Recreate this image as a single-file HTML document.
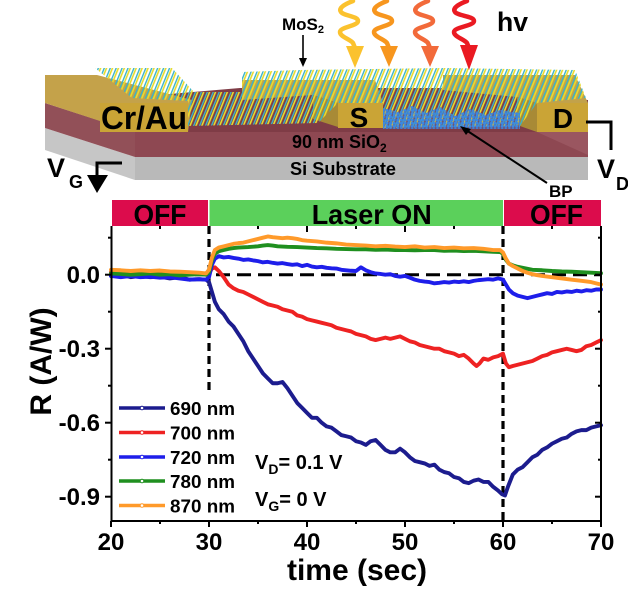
<!DOCTYPE html>
<html><head><meta charset="utf-8"><style>
html,body{margin:0;padding:0;background:#fff;}
svg{display:block;}
text{font-family:"Liberation Sans",Arial,sans-serif;font-weight:bold;fill:#000;}
</style></head><body>
<svg width="628" height="589" viewBox="0 0 628 589" xmlns="http://www.w3.org/2000/svg">
<defs>
<pattern id="mos" width="5.5" height="8" patternUnits="userSpaceOnUse" patternTransform="rotate(22)">
<line x1="1.2" y1="0" x2="1.2" y2="8" stroke="#3ab4c8" stroke-width="1.4"/>
<line x1="3.3" y1="0" x2="3.3" y2="8" stroke="#e8dc2e" stroke-width="1.6"/>
</pattern>
<pattern id="bp" width="3.6" height="3.2" patternUnits="userSpaceOnUse">
<circle cx="1.8" cy="1.6" r="1.45" fill="#3a88e4"/>
</pattern>
</defs>

<!-- ===== schematic ===== -->
<polygon points="45,128 135,157 135,180 45,150" fill="#c6c6c6"/>
<rect x="135" y="156" width="453" height="24" fill="#b9b9b9"/>
<polygon points="45,103 135,132 135,157 45,128" fill="#925058"/>
<rect x="135" y="128" width="453" height="29" fill="#8e4852"/>
<polygon points="100,100 240,88 445,88 588,100 588,132 135,132" fill="#7f3c46"/>
<polygon points="537,132 588,132 588,155" fill="#9a5660"/>
<!-- Cr/Au -->
<polygon points="45,75 97,75 192,100 188,132 100,132 100,121 45,103" fill="#c4a24a"/>
<!-- S electrode -->
<polygon points="242,80 375,80 383,103 338,103 313,95 242,100" fill="#c2a24a"/>
<polygon points="313,95 338,103 338,127 313,119" fill="#a88a36"/>
<!-- D electrode -->
<polygon points="443,75 575,75 588,103 537,103 517,97 443,90" fill="#c2a24a"/>
<polygon points="517,97 537,103 537,132 517,125" fill="#a88a36"/>
<!-- MoS2 lattice -->
<polygon points="95,68 172,68 194,92 242,92 242,72 300,70 445,68 575,70 586,98 537,103 520,126 383,128 383,103 338,103 318,123 188,126 188,101 132,98" fill="url(#mos)"/>
<!-- BP -->
<polygon points="383,108 398,112 412,106 426,113 440,107 455,116 470,109 486,115 500,110 520,113 520,129 383,129" fill="#4a78c8" fill-opacity="0.35"/>
<polygon points="383,108 398,112 412,106 426,113 440,107 455,116 470,109 486,115 500,110 520,113 520,129 383,129" fill="url(#bp)"/>
<rect x="100" y="103" width="88" height="29" fill="#caa436"/>
<rect x="338" y="103" width="45" height="25" fill="#caa436"/>
<rect x="537" y="103" width="51" height="29" fill="#caa436"/>

<text x="144" y="129" font-size="32" text-anchor="middle" textLength="86" lengthAdjust="spacingAndGlyphs">Cr/Au</text>
<text x="359" y="127" font-size="28" text-anchor="middle">S</text>
<text x="563" y="128" font-size="28" text-anchor="middle">D</text>
<text x="292" y="148" font-size="18" fill="#1a1a1a">90 nm SiO<tspan font-size="12" dy="4">2</tspan></text>
<text x="290" y="175" font-size="18" textLength="106" lengthAdjust="spacingAndGlyphs" fill="#1a1a1a">Si Substrate</text>

<!-- V_G -->
<text x="47" y="177" font-size="27">V</text>
<text x="69" y="188" font-size="18">G</text>
<polyline points="122,163 97,163 97,177" fill="none" stroke="#000" stroke-width="3"/>
<polygon points="87,175 108,175 97,193" fill="#000"/>
<!-- V_D -->
<polyline points="586,122 611,122 611,150" fill="none" stroke="#000" stroke-width="3"/>
<text x="597" y="178" font-size="27">V</text>
<text x="616" y="190" font-size="18">D</text>
<!-- BP -->
<line x1="547" y1="183" x2="466" y2="130" stroke="#000" stroke-width="2"/>
<polygon points="460,126 471,129 466,135" fill="#000"/>
<text x="549" y="197" font-size="17">BP</text>
<!-- MoS2 -->
<text x="282" y="30" font-size="17">MoS<tspan font-size="11" dy="3">2</tspan></text>
<line x1="303" y1="35" x2="303" y2="60" stroke="#000" stroke-width="1.6"/>
<polygon points="299,58 307,58 303,67" fill="#000"/>
<!-- light arrows -->
<g fill="none" stroke-width="4.5" stroke-linecap="round">
<path d="M353,1 C345,4 338,8 341,12 C344,16 358,16 358,21 C358,26 340,27 340,32 C340,37 350,39 353,43 L355,48" stroke="#fbc22e"/>
<path transform="translate(34,0)" d="M353,1 C345,4 338,8 341,12 C344,16 358,16 358,21 C358,26 340,27 340,32 C340,37 350,39 353,43 L355,48" stroke="#f7961e"/>
<path transform="translate(75,0)" d="M353,1 C345,4 338,8 341,12 C344,16 358,16 358,21 C358,26 340,27 340,32 C340,37 350,39 353,43 L355,48" stroke="#f26a3a"/>
<path transform="translate(114,0)" d="M353,1 C345,4 338,8 341,12 C344,16 360,16 360,21 C360,26 340,27 340,32 C340,37 350,39 353,43 L355,48" stroke="#ea1a22"/>
</g>
<polygon points="346,46 364,46 355,68" fill="#fbc22e"/>
<polygon points="380,46 398,46 389,67" fill="#f7961e"/>
<polygon points="421,46 439,46 430,67" fill="#f26a3a"/>
<polygon points="460,45 478,45 469,70" fill="#ea1a22"/>
<text x="497" y="31" font-size="27" textLength="31" lengthAdjust="spacingAndGlyphs">hv</text>

<!-- ===== chart ===== -->
<rect x="112" y="200" width="96" height="26" fill="#dc0c4c"/>
<rect x="209.5" y="200" width="293.5" height="26" fill="#5bd05b"/>
<rect x="504" y="200" width="97" height="26" fill="#dc0c4c"/>
<text x="160" y="224" font-size="28" text-anchor="middle" textLength="53" lengthAdjust="spacingAndGlyphs">OFF</text>
<text x="371.7" y="224" font-size="28" text-anchor="middle" textLength="120" lengthAdjust="spacingAndGlyphs">Laser ON</text>
<text x="556.5" y="224" font-size="28" text-anchor="middle" textLength="53" lengthAdjust="spacingAndGlyphs">OFF</text>

<!-- dashed lines -->
<line x1="111" y1="274.7" x2="601" y2="274.7" stroke="#000" stroke-width="3" stroke-dasharray="14,7"/>
<line x1="209" y1="226" x2="209" y2="395" stroke="#000" stroke-width="3.2" stroke-dasharray="8,5"/>
<line x1="503" y1="226" x2="503" y2="521" stroke="#000" stroke-width="3.2" stroke-dasharray="8,5"/>

<!-- data -->
<g transform="translate(-85,274.7) scale(9.8,-246.7)" fill="none" stroke-width="3.9" stroke-linejoin="round" stroke-linecap="round">
<polyline vector-effect="non-scaling-stroke" stroke="#1c1c8e" points="20,-0.005 21,0 22,-0.01 23,-0.005 24,-0.01 25,-0.008 26,-0.015 27,-0.01 28,-0.02 29,-0.018 29.7,-0.02 30,-0.03 30.3,-0.07 30.6,-0.11 31,-0.14 31.5,-0.16 32,-0.19 32.5,-0.21 33,-0.24 33.5,-0.27 34,-0.31 34.5,-0.34 35,-0.37 35.5,-0.4 36,-0.42 36.5,-0.44 37,-0.44 37.5,-0.435 38,-0.46 38.5,-0.49 39,-0.52 39.5,-0.54 40,-0.56 40.5,-0.58 41,-0.58 41.5,-0.6 42,-0.615 42.5,-0.62 43,-0.635 43.5,-0.65 44,-0.655 44.5,-0.66 45,-0.675 45.5,-0.68 46,-0.69 46.5,-0.675 47,-0.67 47.5,-0.69 48,-0.71 48.5,-0.72 49,-0.72 49.5,-0.705 50,-0.72 50.5,-0.74 51,-0.755 51.5,-0.76 52,-0.765 52.5,-0.775 53,-0.77 53.5,-0.79 54,-0.8 54.5,-0.805 55,-0.82 55.5,-0.825 56,-0.84 56.5,-0.845 57,-0.835 57.5,-0.83 58,-0.84 58.5,-0.84 59,-0.86 59.5,-0.875 59.9,-0.89 60.2,-0.895 60.5,-0.86 61,-0.81 61.5,-0.79 62,-0.78 62.5,-0.76 63,-0.74 63.5,-0.73 64,-0.71 64.5,-0.7 65,-0.685 65.5,-0.675 66,-0.665 66.5,-0.66 67,-0.645 67.5,-0.635 68,-0.63 68.5,-0.63 69,-0.62 69.5,-0.615 70,-0.61"/>
<polyline vector-effect="non-scaling-stroke" stroke="#ee2222" points="20,0.01 21,0.015 22,0.01 23,0.012 24,0.015 25,0.01 26,0.012 27,0.005 28,0.008 29,0.005 29.7,0 30,0.005 30.3,0.025 30.6,0.03 31,0.015 31.5,-0.01 32,-0.04 32.5,-0.055 33,-0.065 33.5,-0.07 34,-0.08 34.5,-0.09 35,-0.1 35.5,-0.11 36,-0.12 36.5,-0.125 37,-0.13 37.5,-0.14 38,-0.145 38.5,-0.15 39,-0.165 39.5,-0.17 40,-0.18 40.5,-0.185 41,-0.19 41.5,-0.195 42,-0.2 42.5,-0.205 43,-0.215 43.5,-0.22 44,-0.225 44.5,-0.23 45,-0.24 45.5,-0.245 46,-0.25 46.5,-0.26 47,-0.265 47.5,-0.26 48,-0.255 48.5,-0.26 49,-0.255 49.5,-0.25 50,-0.26 50.5,-0.27 51,-0.275 51.5,-0.285 52,-0.29 52.5,-0.295 53,-0.3 53.5,-0.3 54,-0.31 54.5,-0.315 55,-0.32 55.5,-0.33 56,-0.325 56.5,-0.34 57,-0.36 57.3,-0.37 57.6,-0.36 58,-0.34 58.5,-0.345 59,-0.335 59.5,-0.33 60,-0.32 60.3,-0.36 60.6,-0.375 61,-0.37 61.5,-0.365 62,-0.36 62.5,-0.355 63,-0.35 63.5,-0.34 64,-0.33 64.5,-0.325 65,-0.315 65.5,-0.31 66,-0.305 66.5,-0.3 67,-0.305 67.5,-0.31 68,-0.305 68.5,-0.29 69,-0.285 69.5,-0.275 70,-0.265"/>
<polyline vector-effect="non-scaling-stroke" stroke="#1e1eea" points="20,-0.005 21,-0.01 22,-0.005 23,-0.01 24,-0.008 25,-0.012 26,-0.01 27,-0.015 28,-0.02 29,-0.018 29.7,-0.02 30,-0.01 30.3,0.04 30.6,0.065 31,0.075 31.5,0.07 32,0.072 32.5,0.068 33,0.065 33.5,0.06 34,0.062 34.5,0.058 35,0.055 35.5,0.05 36,0.052 36.5,0.048 37,0.045 37.5,0.047 38,0.043 38.5,0.04 39,0.042 39.5,0.035 40,0.04 40.5,0.033 41,0.03 41.5,0.032 42,0.028 42.5,0.026 43,0.025 43.5,0.02 44,0.018 44.5,0.016 45,0.015 45.5,0.03 46,0.018 46.5,0.01 47,0.005 47.5,0.003 48,0 48.5,0.002 49,-0.005 49.5,-0.008 50,-0.005 50.5,-0.012 51,-0.02 51.5,-0.025 52,-0.028 52.5,-0.03 53,-0.035 53.5,-0.033 54,-0.03 54.5,-0.032 55,-0.028 55.5,-0.03 56,-0.027 56.5,-0.03 57,-0.025 57.5,-0.022 58,-0.02 58.5,-0.018 59,-0.02 59.5,-0.015 60,-0.02 60.3,-0.04 60.6,-0.06 61,-0.075 61.5,-0.085 62,-0.09 62.5,-0.095 63,-0.09 63.5,-0.085 64,-0.08 64.5,-0.075 65,-0.078 65.5,-0.07 66,-0.072 66.5,-0.068 67,-0.07 67.5,-0.065 68,-0.068 68.5,-0.063 69,-0.065 69.5,-0.06 70,-0.06"/>
<polyline vector-effect="non-scaling-stroke" stroke="#1f8f1f" points="20,0.005 21,0.003 22,0 23,0.002 24,0.005 25,0 26,0.002 27,-0.003 28,0 29,0.002 29.7,0 30,0.01 30.3,0.06 30.6,0.085 31,0.095 31.5,0.1 32,0.105 32.5,0.108 33,0.11 34,0.112 35,0.115 35.5,0.118 36,0.12 36.5,0.118 37,0.115 38,0.113 39,0.112 40,0.11 41,0.108 42,0.107 43,0.105 44,0.104 45,0.103 46,0.103 47,0.101 48,0.102 49,0.1 50,0.1 51,0.099 52,0.1 53,0.1 54,0.097 55,0.098 56,0.096 57,0.097 58,0.095 59,0.093 59.7,0.092 60,0.085 60.3,0.06 60.6,0.045 61,0.038 61.5,0.032 62,0.028 62.5,0.024 63,0.02 64,0.018 65,0.015 66,0.013 67,0.012 68,0.01 69,0.008 70,0.006"/>
<polyline vector-effect="non-scaling-stroke" stroke="#ff9a2a" points="20,0.02 21,0.018 22,0.015 23,0.018 24,0.015 25,0.017 26,0.013 27,0.012 28,0.01 29,0.008 29.7,0.005 30,0.02 30.3,0.07 30.6,0.1 31,0.11 31.5,0.115 32,0.12 32.5,0.125 33,0.128 33.5,0.13 34,0.135 34.5,0.14 35,0.145 35.5,0.15 36,0.155 36.5,0.152 37,0.15 37.5,0.148 38,0.15 38.5,0.148 39,0.145 39.5,0.14 40,0.138 41,0.135 42,0.13 43,0.127 44,0.122 45,0.12 46,0.118 47,0.115 48,0.117 49,0.114 50,0.112 51,0.115 52,0.11 53,0.112 54,0.108 55,0.11 56,0.107 57,0.108 58,0.105 59,0.1 59.7,0.1 60,0.09 60.3,0.065 60.6,0.045 61,0.035 61.5,0.025 62,0.015 62.5,0.008 63,0.002 63.5,-0.002 64,-0.005 65,-0.01 66,-0.015 67,-0.02 68,-0.025 69,-0.03 69.5,-0.035 70,-0.04"/>
</g>

<!-- axes -->
<g stroke="#000" stroke-width="2" fill="none">
<line x1="111.5" y1="226" x2="111.5" y2="522"/>
<line x1="110.5" y1="521" x2="602" y2="521"/>
<line x1="601" y1="226" x2="601" y2="522"/>
<line x1="105" y1="274.7" x2="111" y2="274.7"/>
<line x1="105" y1="348.7" x2="111" y2="348.7"/>
<line x1="105" y1="422.7" x2="111" y2="422.7"/>
<line x1="105" y1="496.7" x2="111" y2="496.7"/>
<line x1="108" y1="237.7" x2="111" y2="237.7"/>
<line x1="108" y1="311.7" x2="111" y2="311.7"/>
<line x1="108" y1="385.7" x2="111" y2="385.7"/>
<line x1="108" y1="459.7" x2="111" y2="459.7"/>
<line x1="595" y1="274.7" x2="601" y2="274.7"/>
<line x1="595" y1="348.7" x2="601" y2="348.7"/>
<line x1="595" y1="422.7" x2="601" y2="422.7"/>
<line x1="595" y1="496.7" x2="601" y2="496.7"/>
<line x1="598" y1="237.7" x2="601" y2="237.7"/>
<line x1="598" y1="311.7" x2="601" y2="311.7"/>
<line x1="598" y1="385.7" x2="601" y2="385.7"/>
<line x1="598" y1="459.7" x2="601" y2="459.7"/>
<line x1="111" y1="521" x2="111" y2="527"/>
<line x1="209" y1="521" x2="209" y2="527"/>
<line x1="307" y1="521" x2="307" y2="527"/>
<line x1="405" y1="521" x2="405" y2="527"/>
<line x1="503" y1="521" x2="503" y2="527"/>
<line x1="601" y1="521" x2="601" y2="527"/>
<line x1="160" y1="521" x2="160" y2="524"/>
<line x1="258" y1="521" x2="258" y2="524"/>
<line x1="356" y1="521" x2="356" y2="524"/>
<line x1="454" y1="521" x2="454" y2="524"/>
<line x1="552" y1="521" x2="552" y2="524"/>
<line x1="307" y1="226" x2="307" y2="232"/>
<line x1="405" y1="226" x2="405" y2="232"/>
<line x1="160" y1="226" x2="160" y2="229"/>
<line x1="258" y1="226" x2="258" y2="229"/>
<line x1="356" y1="226" x2="356" y2="229"/>
<line x1="454" y1="226" x2="454" y2="229"/>
<line x1="552" y1="226" x2="552" y2="229"/>
</g>

<!-- tick labels -->
<g font-size="24" text-anchor="end">
<text x="100" y="283">0.0</text>
<text x="100" y="357">-0.3</text>
<text x="100" y="431">-0.6</text>
<text x="100" y="505">-0.9</text>
</g>
<g font-size="24" text-anchor="middle">
<text x="111" y="550">20</text>
<text x="209" y="550">30</text>
<text x="307" y="550">40</text>
<text x="405" y="550">50</text>
<text x="503" y="550">60</text>
<text x="601" y="550">70</text>
</g>
<text x="357" y="580" font-size="30" text-anchor="middle">time (sec)</text>
<text transform="translate(51,361.5) rotate(-90)" font-size="30" text-anchor="middle">R (A/W)</text>

<!-- legend -->
<g stroke-width="3.5">
<line x1="119" y1="408" x2="165" y2="408" stroke="#1c1c8e"/>
<line x1="119" y1="432.5" x2="165" y2="432.5" stroke="#ee2222"/>
<line x1="119" y1="457" x2="165" y2="457" stroke="#1e1eea"/>
<line x1="119" y1="481" x2="165" y2="481" stroke="#1f8f1f"/>
<line x1="119" y1="505.5" x2="165" y2="505.5" stroke="#ff9a2a"/>
</g>
<g fill="#fff" stroke-width="1">
<circle cx="142" cy="408" r="1.8" stroke="#1c1c8e"/>
<circle cx="142" cy="432.5" r="1.8" stroke="#ee2222"/>
<circle cx="142" cy="457" r="1.8" stroke="#1e1eea"/>
<circle cx="142" cy="481" r="1.8" stroke="#1f8f1f"/>
<circle cx="142" cy="505.5" r="1.8" stroke="#ff9a2a"/>
</g>
<g font-size="18">
<text x="170" y="415" textLength="65" lengthAdjust="spacingAndGlyphs">690 nm</text>
<text x="170" y="439.5" textLength="65" lengthAdjust="spacingAndGlyphs">700 nm</text>
<text x="170" y="464" textLength="65" lengthAdjust="spacingAndGlyphs">720 nm</text>
<text x="170" y="488" textLength="65" lengthAdjust="spacingAndGlyphs">780 nm</text>
<text x="170" y="512.5" textLength="65" lengthAdjust="spacingAndGlyphs">870 nm</text>
</g>

<!-- annotations -->
<text x="255" y="469" font-size="20">V<tspan font-size="14" dy="5">D</tspan><tspan dy="-5">= 0.1 V</tspan></text>
<text x="255" y="506" font-size="20">V<tspan font-size="14" dy="5">G</tspan><tspan dy="-5">= 0 V</tspan></text>
</svg>
</body></html>
